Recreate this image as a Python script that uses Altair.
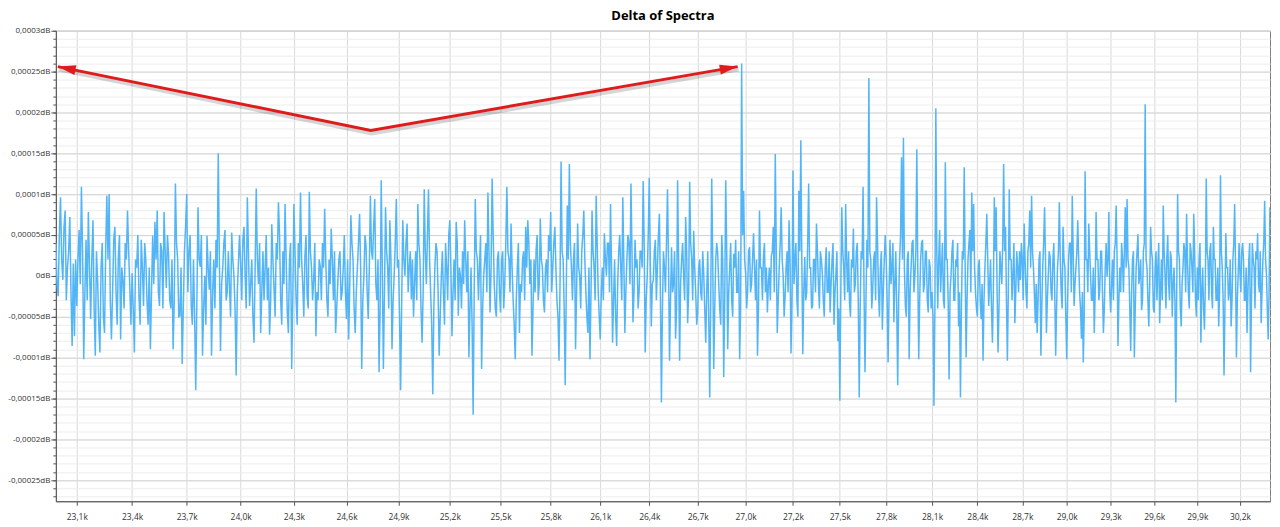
import altair as alt
import pandas as pd

FONT = "Open Sans"
TITLE = "Delta of Spectra"

# Frequency bins (Hz): first bin and bin spacing
FREQ_START_HZ = 22987.5
BIN_WIDTH_HZ = 6.25

# Delta values in units of 1e-5 dB, one list per 300 Hz tick interval
SEG_PRE = [4, -1, -2.5, 5, 9.6, 2, -0.5, 6, 8, -3, 1, 3, 7.2, -2, -8.6, 1.5, -7.4, 2]
SEG_23_1 = [-3.7, 2, 5.6, -1, 10.9, 3, -10.2, -2, 4.4, -3, 7.8, 1, -5.3, 2, 6.8, -4, -9.8, 3, -0.5, -6,
            -9.4, 1, 4, -5, -7, 3, 9.8, 2, 10, -3, -7.8, -2, 4.4, 6, -2, -6, 2.4, 5, -7.8, 1,
            -0.5, -4, 4, 2, 8, 3, -1.5, -6]
SEG_23_4 = [0.3, -4, -9.4, 2, 1, 5, -2.5, -6, 4.4, 1, -3.7, 4, 2, -3, -6, 1, -9, -2, 4.9, -1,
            6.6, 2, 8, -2, -3.7, 4, 3, -4, 7.8, 3, -1.5, 5, 2.5, -3, -4, 2, -9, -3, 11.3, 4,
            2, -5, -4.9, 1, -10.8, -4, 3, 6]
SEG_23_7 = [10, -2, 3, 5, -3.7, -6, 2, -5, -14, -3, 8.4, 2, 1.1, 5, -9.8, -4, 0, -6, 4.9, 1,
            -1.7, 3, -9.8, -2, 2, -4, 4.4, 1, 15, 2, -9.2, -1, 1, 4, 5.6, -3, -2, 3, -1.3, -5,
            5.3, 2, 0, -4, -12.2, -2, 1.5, 5]
SEG_24_0 = [1.5, -3, 4.4, 6, 0, -4, 9.6, 3, -3.7, -1, 2, -5, -8.2, 1, 10.7, 2, -1, 4, -7, -2,
            3, -3, 1, 5, -3, 1, -7.2, -3, 6.3, 2, -1.5, -5, 4, 2, 9, 5, -2.9, -6, 3, -1,
            8.8, 2, -4.5, -7, 2, 4, -11.4, -3]
SEG_24_3 = [8.8, 3, -2.9, -6, 4, 1, 10.2, 2, -1, -5, 2.4, 5, -2.5, -4, 10.3, 3, 1, -3, -0.5, 4,
            -7.4, -2, -3, 2, 1.1, -3, 4, 1, 8.2, 2, -2.9, -5, 2, -1, 5.8, 2, -3, 3, -7, -4,
            -0.9, 2, 3, -3, -2, 1, 5, -2]
SEG_24_6 = [-5.3, 2, -7.8, -1, 7.4, 4, 2, -4, -7, -2, 1, 4, 7.6, 1, -11.4, -3, 0, 5, 3.6, -2,
            -5.3, 1, 9.8, 3, 2, 6, 9.4, -1, -3, 2, -11.8, -4, 11.7, 1, -11.4, -2, 8.4, 3, 1, -4,
            6.8, 2, -9, -3, 0, 4, 9.4, 1]
SEG_24_9 = [2, -5, -14, -3, 6.8, 2, 0, 4, 6.4, -2, 1, 3, -2.9, 2, -5, -1, 3, -3, 8.8, 4,
            2, -4, -8.2, -2, 10.6, 3, -1, 5, 10.6, 2, -2, -6, -14.5, -4, 1.1, 4, 3, -2, -9.8, -5,
            0, 3, -2.1, -6, 4, 1, -3, 5]
SEG_25_2 = [6.8, 1, -7.4, -2, 2, -3, 6.6, 4, -4.9, 1, 0, -4, 3, -1, 6.8, 2, -2, 3, -10, -4,
            1, -6, -17, -2, 9.4, 3, 2, -3, 1.1, 5, -11.4, -4, 0, 2, 4, -2, 10.2, 3, -4.5, 1,
            11.9, 5, -1, -4, -5, 2, 3, -2]
SEG_25_5 = [-4.5, 2, 3, -4, -1, 4, 10.9, 3, 2, -2, 6.4, 1, -3, -6, -10.2, -3, 1, 4, -7, -1,
            -2, 2, 3, -3, 6, 1, 6.8, 4, -1, 2, -9.8, -4, 2, -2, 3.2, 5, -3, -1, 7, 2,
            1, -3, -4.5, 1, 2, -2, 5, 3]
SEG_25_8 = [7.8, -2, 1, 4, 6, 1, -3, -5, -10.4, -1, 14, 3, 2, -4, -13.4, -2, 8.6, 2, 13.7, 4,
            1, -3, 2, 4, -9, -2, 6.4, 1, 0, -4, 3, 5, 8, 2, -2, -5, -7, 1, -10.2, -2,
            8, 3, 1, -3, 9.8, 4, -2, -5]
SEG_26_1 = [-7.8, -2, 1, -3, 5.2, 2, 0, 4, 4, -2, 8.8, 1, -8.2, -3, 2, -5, -8.6, -1, 3, 5,
            1, -3, 9.6, 2, -7, -2, 2, 5, 4, -1, 11.3, 3, -5.7, -2, 4.4, 1, 2, -4, -2, 3,
            3, 1, 11.6, 4, -9.4, -3, 0, 5]
SEG_26_4 = [12, 2, -6.2, -1, -0.5, 3, 4.4, -3, 1, 5, 7.6, -2, -15.5, -4, 3, 1, -2, 4, 10.6, 2,
            -10.4, -3, 3.5, -2, -1, 3, -7.7, -4, 11.7, 2, -10.4, -1, 2, 4, 0, -3, 7.2, 3, -5.8, -2,
            11.5, 4, 2, -3, 5.5, 1, -2, -6]
SEG_26_7 = [-4.5, 1, 2, -2, -3, 3, 0.3, -4, -8.2, -2, 3, -5, -14.9, -3, 11.9, 2, -11.4, -4, 2, 4,
            2.7, -1, -4, -6, 5, 2, -12.4, -3, 11.7, 3, -9, -2, 1, 4, -3, -5, 2.7, 1, 4.4, -2,
            -2, 3, -10.2, -4, 26, 5, 10.4, 2]
SEG_27_0 = [0.3, -4, -2, 3, 3.5, -2, -1, 2, 5.2, 1, -3, 2, -9.8, -4, 8, 1, 1, -3, 2.4, 4,
            -2, 1, -4.5, -1, 1, -3, 2.4, 3, 6, -2, 14.9, 3, -7, -3, 1, 4, 8.4, 2, 0, -5,
            -2.5, 1, 3, -2, 6.8, 2, -9.5, -3]
SEG_27_3 = [12.9, -1, 1.9, 4, -3, -5, 10.4, 3, 16.6, 2, -9.6, -2, 2.3, -3, -2, 4, 11.3, 1, 1, -4,
            -3.7, 2, 2, -2, 6.4, 3, -1, -4, 3, 2, 0.3, -3, -5, 1, 3.5, -2, -2, 3, -4.5, -1,
            2, 4, -6, -2, 0.3, 3, -8, -4]
SEG_27_6 = [-15.3, -2, 8.4, 3, 1, -3, 8.8, 2, -2, 3, -3.4, -5, 2, 1, 5.8, -2, -1, 3, 4, -3,
            -14.9, -4, 3, 2, 10.9, -2, -11.8, -3, 4.4, 1, 24.2, 3, 2, -4, -1.7, 2, 3, -3, 9.6, 4,
            -2, -5, 1, 3, -6.6, -2, 2, 5]
SEG_27_9 = [2, -3, -10.6, -2, 4.4, -1, 1, 4, -5.7, -1, 3, -4, -13.4, -3, 2, 5, 14.5, 2, 16.9, 1,
            -3.7, -5, 2, 3, -10.2, -2, 1, 4, 4.4, -2, 0, 3, 15.5, 1, -10.2, -3, 2, 4, 4.4, -2,
            -1, 3, 3, -3, -4.5, 2, 1, -4]
SEG_28_2 = [-2, -5, -15.9, -4, 20.5, 3, -4, 2, 5.6, -2, 1, 4, -3, -4, 13.9, 2, 2, -3, -12.7, -2,
            0, 3, 4.4, -3, -3, 2, 1.1, 4, -6.2, -2, -14.9, -4, 3, 2, 13.3, 1, -10, -3, 2, 4,
            5.6, -2, 10.2, 3, 8.8, 1, -2, -4]
SEG_28_5 = [-5, 1, 2, -3, -5.3, -1, -10.4, -3, 1, 4, 7.6, 2, -3.7, -1, 2, -4, -8.2, -2, 9.6, 3,
            8.4, -2, -9.4, -4, 3, 1, -1, 4, 13.7, 3, 6, -3, -10.4, -2, 10.6, 2, 2, -3, 0.3, 4,
            -5.8, -2, 3, 1, -2, 3, -0.5, 4]
SEG_28_8 = [2, -3, 6.4, 2, -2, -4, 3, 4, 8, 1, 9.8, 3, 1, -2, -5.8, -1, -7, -3, 2, 3,
            -9.8, -4, 1, 4, 8.4, 2, -7, -3, 0, 3, 2.3, -2, -3, 2, 4, -2, -9.8, -4, 1, 3,
            9, 2, -2, -4, 6, 2, 1, -5]
SEG_29_1 = [-10.2, -3, 2, 4, 4, -2, 9.8, 3, -3.7, -1, 1, 3, 6.8, 2, -2, -4, -7.7, -2, -10.6, -5,
            12.8, 2, 2, -2, 6.4, 3, 0, -3, -3, 1, -7, -2, 7.8, 2, 2, -3, -1.7, 3, 3, -2,
            -7, -4, 1, 4, -0.1, 2, 7.8, -2]
SEG_29_4 = [-4.5, -1, 2, -3, 3, 4, 8.6, 2, -8.6, -3, 1, -2, 4, 2, -2, 3, 8.4, 1, 9.4, 2,
            1, -4, -9.2, -2, 2, 3, -10, -4, 1, 3, 5.1, -1, 0, 2, -4.2, -3, 3, 4, 21, 2,
            1, -3, -6.2, -1, 6, 3, 2, -4]
SEG_29_7 = [-4.5, 1, 3, -3, 1, 4, -5.8, -2, 2, -3, 8.6, 3, 0, -4, 2.3, 5, -1, -3, 3, 2,
            -5, -1, 1, -3, -15.5, -2, 10, 3, 2, -4, -6.2, -1, 1, 4, 3, -2, 7.6, 2, -2, -4,
            4, 3, 1, -2, 7.6, 3, -3, -5]
SEG_30_0 = [1, -3, 2, 4, -8.2, -2, 1, -4, -6.6, -1, 11.9, 3, 1.9, -3, 3, 4, -2, -4, 6, 2,
            2, -3, -3, 1, -6.2, -2, 12.3, 3, 1, -3, -12.2, -4, 5.2, 1, 1, -3, -2, 2, -6.2, -3,
            2, 4, 8.8, 1, -10, -3, 0.3, 4]
SEG_30_3 = [0.3, -2, 3, 4, 1.9, -3, -3, 1, -7, -2, 2, 4, -11.8, -3, 4, 2, 1, -4, 3, 2,
            5.2, -1, -2, 3, -5.8, -2, 2, 4, 9.2, 2, 0.3, -4, -7.8, -2, 8.4]

SEGMENTS = [SEG_PRE, SEG_23_1, SEG_23_4, SEG_23_7, SEG_24_0, SEG_24_3, SEG_24_6, SEG_24_9,
            SEG_25_2, SEG_25_5, SEG_25_8, SEG_26_1, SEG_26_4, SEG_26_7, SEG_27_0, SEG_27_3,
            SEG_27_6, SEG_27_9, SEG_28_2, SEG_28_5, SEG_28_8, SEG_29_1, SEG_29_4, SEG_29_7,
            SEG_30_0, SEG_30_3]

# Axis ticks and labels
X_TICKS = [23100, 23400, 23700, 24000, 24300, 24600, 24900, 25200, 25500, 25800, 26100, 26400,
           26700, 27000, 27300, 27600, 27900, 28200, 28500, 28800, 29100, 29400, 29700, 30000, 30300]
X_TICK_LABELS = ["23,1k", "23,4k", "23,7k", "24,0k", "24,3k", "24,6k", "24,9k", "25,2k", "25,5k",
                 "25,8k", "26,1k", "26,4k", "26,7k", "27,0k", "27,2k", "27,5k", "27,8k", "28,1k",
                 "28,4k", "28,7k", "29,0k", "29,3k", "29,6k", "29,9k", "30,2k"]
Y_TICKS = [-0.00025, -0.0002, -0.00015, -0.0001, -0.00005, 0, 0.00005, 0.0001, 0.00015, 0.0002, 0.00025, 0.0003]
Y_TICK_LABELS = ["-0,00025dB", "-0,0002dB", "-0,00015dB", "-0,0001dB", "-0,00005dB", "0dB",
                 "0,00005dB", "0,0001dB", "0,00015dB", "0,0002dB", "0,00025dB", "0,0003dB"]
Y_MINOR = [round(k * 1e-5, 5) for k in range(-27, 31)]

X_DOMAIN = [22987.5, 30513]
Y_DOMAIN = [-0.000276, 0.0003]

# Annotation arrows (data coordinates)
ARROW_FREQ = [22998, 24740, 26950]
ARROW_DB = [0.0002561, 0.000178, 0.0002561]
HEAD_FREQ = [22998, 26950]
HEAD_DB = [0.0002561, 0.0002561]
HEAD_ANGLE = [191.5, 350.1]

values = [v for seg in SEGMENTS for v in seg]
df = pd.DataFrame({
    "freq": [FREQ_START_HZ + BIN_WIDTH_HZ * i for i in range(len(values))],
    "db": [v * 1e-5 for v in values],
})
arrow_df = pd.DataFrame({"freq": ARROW_FREQ, "db": ARROW_DB})
head_df = pd.DataFrame({"freq": HEAD_FREQ, "db": HEAD_DB, "ang": HEAD_ANGLE})

x_label_expr = "{}[indexof({}, datum.value)]".format(
    "[" + ",".join("'" + s + "'" for s in X_TICK_LABELS) + "]",
    "[" + ",".join(str(v) for v in X_TICKS) + "]")
y_label_expr = "{}[indexof({}, datum.value)]".format(
    "[" + ",".join("'" + s + "'" for s in Y_TICK_LABELS) + "]",
    "[" + ",".join(repr(v) for v in Y_TICKS) + "]")

x_enc = alt.X("freq:Q",
              scale=alt.Scale(type="log", domain=X_DOMAIN, nice=False),
              axis=alt.Axis(values=X_TICKS, labelExpr=x_label_expr, title=None, grid=True,
                            gridColor="#d9d9d9", tickColor="#555555", tickSize=4,
                            domainColor="#555555", labelFont=FONT, labelFontSize=8.5,
                            labelColor="#333333", labelPadding=7, labelOverlap=False,
                            labelFlush=False))
y_scale = alt.Scale(domain=Y_DOMAIN, nice=False, zero=False)
minor_axis = alt.Axis(values=Y_MINOR, labels=False, title=None, grid=True, gridColor="#ededed",
                      tickSize=3, tickColor="#555555", domain=False, orient="left")
major_axis = alt.Axis(values=Y_TICKS, labelExpr=y_label_expr, title=None, grid=True,
                      gridColor="#d2d2d2", tickSize=5, tickColor="#555555", domainColor="#555555",
                      orient="left", labelFont=FONT, labelFontSize=8, labelColor="#333333",
                      labelPadding=1)

line = alt.Chart(df).mark_line(color="#52b5f7", strokeWidth=1.5, clip=True).encode(
    x=x_enc, y=alt.Y("db:Q", scale=y_scale, axis=minor_axis))

shadow = alt.Chart(arrow_df).mark_line(color="#000000", opacity=0.16, strokeWidth=4,
                                       xOffset=1, yOffset=3).encode(
    x=x_enc, y=alt.Y("db:Q", scale=y_scale, axis=major_axis))

shaft = alt.Chart(arrow_df).mark_line(color="#e01b1b", strokeWidth=3).encode(
    x=x_enc, y=alt.Y("db:Q", scale=y_scale, axis=None))

heads = alt.Chart(head_df).mark_point(shape="M 0 0 L -2 -0.55 L -2 0.55 Z", filled=True,
                                      size=324, color="#e01b1b", opacity=1).encode(
    x=x_enc, y=alt.Y("db:Q", scale=y_scale, axis=None), angle=alt.Angle("ang:Q", scale=None))

chart = alt.layer(line, shadow, shaft, heads).resolve_axis(y="independent").properties(
    width=1218, height=472,
    title=alt.TitleParams(TITLE, font=FONT, fontSize=13, fontWeight="bold", color="#000000",
                          offset=4, anchor="middle"),
    autosize=alt.AutoSizeParams(type="none"),
    padding={"left": 48, "top": 22, "right": 2, "bottom": 20},
    background="white",
).configure_view(stroke="#808080", strokeWidth=1)

chart.save("out.html", embed_options={"renderer": "svg", "actions": False})
